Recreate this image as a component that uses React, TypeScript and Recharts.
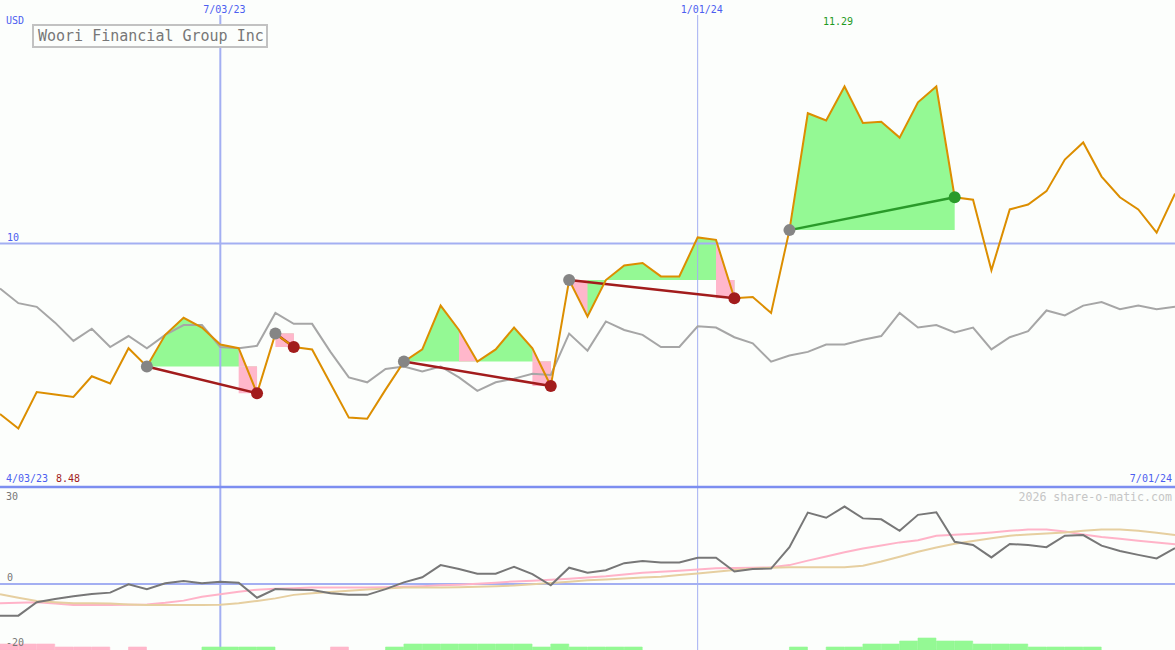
import React from 'react'
import {
  ComposedChart,
  Line,
  Area,
  Bar,
  XAxis,
  YAxis,
  ReferenceLine,
} from 'recharts'

const W = 1175
const TOP_H = 490
const BOT_H = 163

// weekly closes (USD), one point per week, 65 weeks
const price = [
  8.6, 8.48, 8.78, 8.76, 8.74, 8.91, 8.85, 9.14, 8.99, 9.25,
  9.39, 9.31, 9.17, 9.14, 8.77, 9.26, 9.15, 9.13, 8.85, 8.57,
  8.56, 8.8, 9.03, 9.13, 9.49, 9.29, 9.03, 9.13, 9.31, 9.14,
  8.83, 9.7, 9.4, 9.7, 9.82, 9.84, 9.73, 9.73, 10.05, 10.03,
  9.55, 9.56, 9.43, 10.11, 11.07, 11.01, 11.29, 10.99, 11.0, 10.87,
  11.16, 11.29, 10.38, 10.36, 9.78, 10.28, 10.32, 10.43, 10.69, 10.83,
  10.55, 10.38, 10.28, 10.09, 10.41,
]

// comparison line (grey), on the price scale
const peer = [
  9.63, 9.51, 9.48, 9.35, 9.2, 9.3, 9.15, 9.24, 9.14, 9.25,
  9.33, 9.33, 9.15, 9.14, 9.16, 9.43, 9.34, 9.34, 9.11, 8.9,
  8.86, 8.97, 8.99, 8.95, 8.99, 8.9, 8.79, 8.86, 8.89, 8.93,
  8.92, 9.26, 9.12, 9.36, 9.29, 9.25, 9.15, 9.15, 9.32, 9.31,
  9.23, 9.18, 9.03, 9.08, 9.11, 9.17, 9.17, 9.21, 9.24, 9.43,
  9.31, 9.33, 9.27, 9.31, 9.13, 9.23, 9.28, 9.45, 9.41, 9.49,
  9.52, 9.46, 9.49, 9.46, 9.48,
]

// lower panel
const momentum = [
  -9.9, -9.9, -5.7, -4.7, -3.8, -3.1, -2.7, -0.1, -1.6, 0.2,
  0.9, 0.2, 0.7, 0.4, -4.3, -1.6, -1.8, -1.9, -2.9, -3.4,
  -3.4, -1.6, 0.5, 2.1, 5.9, 4.7, 3.2, 3.2, 5.4, 3.1,
  -0.4, 5.1, 3.5, 4.3, 6.5, 7.2, 6.7, 6.7, 8.2, 8.2,
  3.9, 4.7, 4.8, 11.5, 22.3, 20.7, 24.2, 20.5, 20.2, 16.6,
  21.6, 22.4, 13.2, 12.2, 8.3, 12.5, 12.2, 11.5, 15.1, 15.3,
  12.0, 10.3, 9.1, 8.0, 11.2,
]
const momentumFast = [
  -6.0, -5.9, -5.7, -6.1, -6.6, -6.6, -6.6, -6.5, -6.4, -5.9,
  -5.2, -4.0, -3.2, -2.4, -1.8, -1.5, -1.3, -1.1, -1.1, -1.1,
  -1.1, -1.0, -0.9, -0.7, -0.4, -0.2, 0.1, 0.4, 0.8, 1.0,
  1.3, 1.6, 2.0, 2.4, 3.0, 3.5, 3.8, 4.1, 4.5, 4.9,
  5.0, 5.1, 5.2, 5.9, 7.3, 8.6, 9.9, 11.1, 12.0, 13.0,
  13.7, 15.1, 15.4, 15.7, 16.1, 16.6, 17.0, 17.0, 16.4, 15.5,
  14.7, 14.1, 13.5, 13.0, 12.4,
]
const momentumSlow = [
  -3.2, -4.3, -5.3, -5.7, -6.0, -6.0, -6.1, -6.4, -6.6, -6.6,
  -6.6, -6.6, -6.5, -6.0, -5.3, -4.5, -3.4, -2.9, -2.5, -2.1,
  -1.7, -1.4, -1.1, -1.1, -1.1, -1.0, -0.9, -0.7, -0.5, -0.1,
  0.3, 0.7, 1.2, 1.4, 1.7, 2.0, 2.3, 2.8, 3.3, 3.8,
  4.4, 4.8, 5.1, 5.2, 5.2, 5.2, 5.2, 5.7, 7.0, 8.5,
  10.1, 11.4, 12.6, 13.4, 14.3, 15.1, 15.5, 15.8, 16.1, 16.6,
  17.0, 17.0, 16.6, 16.0, 15.3,
]

// strip at the bottom, one per week interval (+ green, - pink)
const signalBars = [
  -2, -2, -2, -1, -1, -1, 0, -1, 0, 0,
  0, 1, 1, 1, 1, 0, 0, 0, -1, 0,
  0, 1, 2, 2, 2, 2, 2, 2, 2, 1,
  2, 1, 1, 1, 1, 0, 0, 0, 0, 0,
  0, 0, 0, 1, 0, 1, 1, 2, 2, 3,
  4, 3, 3, 2, 2, 2, 1, 1, 1, 1,
  0, 0, 0, 0,
]

// entry / exit week, and the weeks whose following segment is shaded pink
const trades = [
  { entry: 8, exit: 14, pink: [13] },
  { entry: 15, exit: 16, pink: [15] },
  { entry: 22, exit: 30, pink: [25, 29] },
  { entry: 31, exit: 40, pink: [31, 39] },
  { entry: 43, exit: 52, pink: [] as number[] },
]

const dateLines = [
  { i: 12, label: '7/03/23', width: 2 },
  { i: 38, label: '1/01/24', width: 1 },
]

const GREEN_FILL = '#94f994'
const PINK_FILL = '#ffb7cb'
const LOSS = '#a21c1c'
const WIN = '#2a9a2a'
const BLUE = '#a3aff2'
const MONO = '"DejaVu Sans Mono", monospace'

const rows = price.map((p, i) => {
  const row: Record<string, any> = {
    i,
    price: p,
    peer: peer[i],
    mom: momentum[i],
    fast: momentumFast[i],
    slow: momentumSlow[i],
  }
  trades.forEach((t, k) => {
    const slot = k % 2 === 0 ? 'A' : 'B'
    const base = price[t.entry]
    const inTrade = i >= t.entry && i <= t.exit
    if (inTrade) {
      row['g' + slot] = [base, p]
      if (t.pink.includes(i) || t.pink.includes(i - 1)) row['p' + slot] = [base, p]
      if (price[t.exit] < base && i >= t.exit - 1) row['r' + slot] = [base, p]
    }
    row['t' + k] = i === t.entry || i === t.exit ? p : null
  })
  return row
})

const barRows = signalBars.map((v, k) => ({
  k,
  up: v > 0 ? v : 0,
  down: v < 0 ? -v : 0,
}))

const tradeDot = (t: { entry: number; exit: number }, color: string) => (props: any) => {
  const { cx, cy, index } = props
  if (cx == null || cy == null || (index !== t.entry && index !== t.exit)) {
    return <g key={'d' + index} />
  }
  const fill = index === t.entry ? '#858585' : color
  return <circle key={'d' + index} cx={cx} cy={cy} r={6} fill={fill} stroke='none' />
}

export default function App() {
  return (
    <div
      style={{
        position: 'absolute',
        left: 0,
        top: 0,
        width: W,
        height: 650,
        background: '#fcfefc',
        overflow: 'hidden',
      }}
    >
      {/* lower panel */}
      <div style={{ position: 'absolute', left: 0, top: 487 }}>
        <ComposedChart width={W} height={BOT_H} data={rows} margin={{ top: 0, right: 0, bottom: 0, left: 0 }}>
          <XAxis dataKey='i' type='number' domain={[0, 64]} hide />
          <YAxis type='number' domain={[-20.63, 30.31]} hide allowDataOverflow />
          <ReferenceLine y={0} stroke={BLUE} strokeWidth={2} />
          {dateLines.map((d) => (
            <ReferenceLine key={d.i} x={d.i} stroke={BLUE} strokeWidth={d.width} />
          ))}
          <Line dataKey='fast' stroke='#ffb3c8' strokeWidth={2} dot={false} isAnimationActive={false} />
          <Line dataKey='slow' stroke='#e6cfa0' strokeWidth={2} dot={false} isAnimationActive={false} />
          <Line dataKey='mom' stroke='#777777' strokeWidth={2} dot={false} isAnimationActive={false} />
        </ComposedChart>
      </div>

      {/* signal strip */}
      <div style={{ position: 'absolute', left: 0, top: 620 }}>
        <ComposedChart
          width={W}
          height={30}
          data={barRows}
          margin={{ top: 0, right: 0, bottom: 0, left: 0 }}
          barCategoryGap={0}
          barGap={0}
        >
          <XAxis dataKey='k' type='category' hide />
          <YAxis type='number' domain={[0, 10]} hide />
          <Bar dataKey='up' stackId='s' fill={GREEN_FILL} stroke={GREEN_FILL} strokeWidth={0.6} isAnimationActive={false} />
          <Bar dataKey='down' stackId='s' fill={PINK_FILL} stroke={PINK_FILL} strokeWidth={0.6} isAnimationActive={false} />
        </ComposedChart>
      </div>

      {/* price panel */}
      <div style={{ position: 'absolute', left: 0, top: 0 }}>
        <ComposedChart width={W} height={TOP_H} data={rows} margin={{ top: 15, right: 0, bottom: 3, left: 0 }}>
          <XAxis dataKey='i' type='number' domain={[0, 64]} hide />
          <YAxis type='number' domain={[8, 11.877]} hide allowDataOverflow />
          {dateLines.map((d) => (
            <ReferenceLine key={d.i} x={d.i} stroke={BLUE} strokeWidth={d.width} />
          ))}
          <ReferenceLine y={10} stroke={BLUE} strokeWidth={2} />
          <ReferenceLine y={8} stroke='#7c8ef0' strokeWidth={2.5} />

          <Area dataKey='gA' type='linear' stroke='none' fill={GREEN_FILL} fillOpacity={1} isAnimationActive={false} />
          <Area dataKey='gB' type='linear' stroke='none' fill={GREEN_FILL} fillOpacity={1} isAnimationActive={false} />
          <Area dataKey='pA' type='linear' stroke='none' fill={PINK_FILL} fillOpacity={1} isAnimationActive={false} />
          <Area dataKey='pB' type='linear' stroke='none' fill={PINK_FILL} fillOpacity={1} isAnimationActive={false} />
          <Area dataKey='rA' type='stepBefore' stroke='none' fill={PINK_FILL} fillOpacity={1} isAnimationActive={false} />
          <Area dataKey='rB' type='stepBefore' stroke='none' fill={PINK_FILL} fillOpacity={1} isAnimationActive={false} />

          <Line dataKey='peer' stroke='#a6a6a6' strokeWidth={2} dot={false} isAnimationActive={false} />

          {trades.map((t, k) => {
            const color = price[t.exit] < price[t.entry] ? LOSS : WIN
            return (
              <Line
                key={'t' + k}
                dataKey={'t' + k}
                stroke={color}
                strokeWidth={2.5}
                connectNulls
                dot={tradeDot(t, color)}
                activeDot={false}
                isAnimationActive={false}
              />
            )
          })}

          <Line dataKey='price' stroke='#dc8e00' strokeWidth={2} dot={false} isAnimationActive={false} />
        </ComposedChart>
      </div>

      {/* labels */}
      <svg
        width={W}
        height={650}
        style={{ position: 'absolute', left: 0, top: 0, pointerEvents: 'none' }}
        fontFamily={MONO}
        fontSize={10}
      >
        <text x={6} y={24} fill='#4c5ef0'>USD</text>
        {dateLines.map((d) => (
          <text key={d.i} x={(d.i / 64) * W - 17} y={13} fill='#4c5ef0'>{d.label}</text>
        ))}
        <text x={823} y={25} fill='#1f9a1f'>11.29</text>
        <text x={7} y={241} fill='#4c5ef0'>10</text>
        <text x={6} y={482} fill='#4c5ef0'>4/03/23</text>
        <text x={56} y={482} fill={LOSS}>8.48</text>
        <text x={1172} y={482} fill='#4c5ef0' textAnchor='end'>7/01/24</text>
        <text x={1172} y={501} fill='#c6c6c6' fontSize={11.6} textAnchor='end'>2026 share-o-matic.com</text>
        <text x={6} y={500} fill='#777'>30</text>
        <text x={7} y={581} fill='#777'>0</text>
        <text x={6} y={646} fill='#777'>-20</text>

        <rect x={33} y={25} width={234} height={22} fill='#fcfefc' stroke='#c2c2c2' strokeWidth={2} />
        <text x={38} y={41} fill='#777' fontSize={15}>Woori Financial Group Inc</text>
      </svg>
    </div>
  )
}
